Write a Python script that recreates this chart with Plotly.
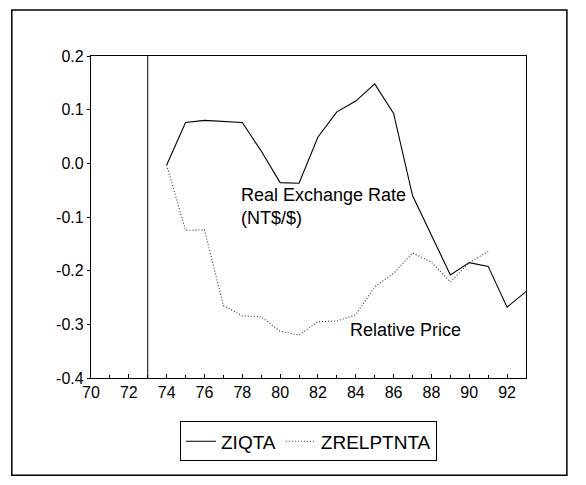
import plotly.graph_objects as go

years_iq = list(range(74, 94))
ziqta = [-0.003, 0.076, 0.080, 0.078, 0.076, 0.023, -0.036, -0.037, 0.049, 0.096,
         0.116, 0.148, 0.093, -0.060, -0.134, -0.208, -0.185, -0.192, -0.268, -0.239]

years_rp = list(range(74, 92))
zrelptnta = [-0.003, -0.125, -0.124, -0.265, -0.284, -0.286, -0.313, -0.320, -0.295,
             -0.294, -0.282, -0.230, -0.205, -0.167, -0.184, -0.221, -0.185, -0.164]

break_year = 73
x_ticks = list(range(70, 94, 2))
y_ticks = [0.2, 0.1, 0.0, -0.1, -0.2, -0.3, -0.4]
y_tick_text = ["0.2", "0.1", "0.0", "-0.1", "-0.2", "-0.3", "-0.4"]

FONT = "Liberation Sans, Arial, sans-serif"

fig = go.Figure()
fig.add_trace(go.Scatter(x=years_iq, y=ziqta, mode="lines", name="ZIQTA",
                         line=dict(color="black", width=1.1)))
fig.add_trace(go.Scatter(x=years_rp, y=zrelptnta, mode="lines", name="ZRELPTNTA",
                         line=dict(color="#333333", width=1.1, dash="1px,2px")))
fig.add_trace(go.Scatter(x=[break_year, break_year], y=[-0.4, 0.2], mode="lines",
                         showlegend=False, hoverinfo="skip",
                         line=dict(color="black", width=1)))

fig.add_annotation(x=77.85, y=-0.081, xref="x", yref="y", text="Real Exchange Rate<br>(NT$/$)",
                   showarrow=False, xanchor="left", align="left",
                   font=dict(family=FONT, size=18, color="black"))
fig.add_annotation(x=83.6, y=-0.311, xref="x", yref="y", text="Relative Price",
                   showarrow=False, xanchor="left",
                   font=dict(family=FONT, size=18, color="black"))

# outer frame
fig.add_shape(type="rect", xref="paper", yref="paper",
              x0=-0.182, x1=1.094, y0=-0.302, y1=1.143,
              line=dict(color="black", width=1.5))

fig.update_layout(
    width=570, height=469,
    margin=dict(l=83, r=52, t=48, b=99),
    paper_bgcolor="white", plot_bgcolor="white",
    font=dict(family=FONT, size=16, color="black"),
    showlegend=True,
    legend=dict(orientation="h", x=0.50, y=-0.135, xanchor="center", yanchor="top",
                bordercolor="black", borderwidth=1, bgcolor="white",
                font=dict(family=FONT, size=19, color="black"),
                itemwidth=30),
    xaxis=dict(range=[70, 93], tickvals=x_ticks, ticktext=[str(t) for t in x_ticks],
               showgrid=False, zeroline=False, showline=True, linecolor="black",
               linewidth=1.2, mirror=True, ticks="inside", ticklen=4, tickcolor="black",
               minor=dict(dtick=1, ticks="inside", ticklen=3, tickcolor="black"),
               tickfont=dict(family=FONT, size=16, color="black")),
    yaxis=dict(range=[-0.4, 0.2], tickvals=y_ticks, ticktext=y_tick_text,
               showgrid=False, zeroline=False, showline=True, linecolor="black",
               linewidth=1.2, mirror=True, ticks="outside", ticklen=3, tickcolor="black",
               tickfont=dict(family=FONT, size=16, color="black")),
)

fig.write_html("out.html")
